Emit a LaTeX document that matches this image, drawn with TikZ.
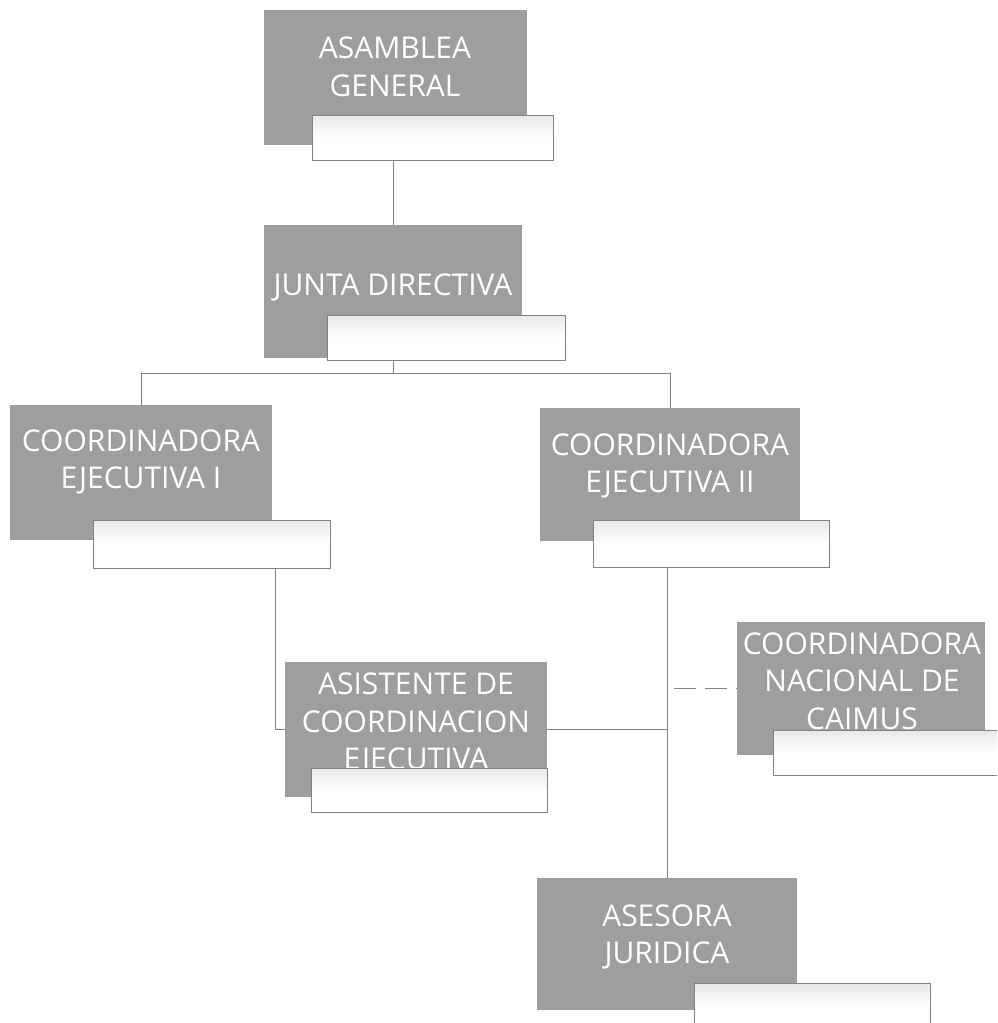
\documentclass[tikz,border=0pt]{standalone}
\usepackage{fontspec}
\setmainfont{Open Sans}
\usetikzlibrary{calc}
\definecolor{boxgray}{RGB}{158,158,158}
\definecolor{linegray}{RGB}{130,130,130}
\tikzset{
  graybox/.style={draw=none, fill=boxgray, anchor=north west, inner sep=0pt},
  whitebox/.style={draw=linegray, line width=0.8pt, anchor=north west, inner sep=0pt,
    top color=gray!18, bottom color=white, middle color=white},
  label/.style={text=white, font=\fontsize{30}{37.5}\selectfont, align=center, inner sep=0pt},
  link/.style={draw=linegray, line width=0.9pt},
  dlink/.style={link, dash pattern=on 22pt off 9pt}
}
\begin{document}
\begin{tikzpicture}[x=1pt, y=-1pt]
\useasboundingbox (0,0) rectangle (997,1023);
\begin{scope}
\clip (0,0) rectangle (997,1023);
% ASAMBLEA GENERAL
\node[graybox, minimum width=263pt, minimum height=135pt] (ag) at (264,10) {};
\node[label] (agt) at (395,67) {ASAMBLEA\\GENERAL};
\node[whitebox, minimum width=241pt, minimum height=45pt] (agw) at (312,115) {};
% JUNTA DIRECTIVA
\node[graybox, minimum width=258pt, minimum height=133pt] (jd) at (264,225) {};
\node[label] (jdt) at (393,287) {JUNTA DIRECTIVA};
\node[whitebox, minimum width=238pt, minimum height=45pt] (jdw) at (327,315) {};
% COORDINADORA EJECUTIVA I
\node[graybox, minimum width=262pt, minimum height=135pt] (c1) at (10,405) {};
\node[label] (c1t) at (141,462) {COORDINADORA\\EJECUTIVA I};
\node[whitebox, minimum width=237pt, minimum height=48pt] (c1w) at (93,520) {};
% COORDINADORA EJECUTIVA II
\node[graybox, minimum width=260pt, minimum height=133pt] (c2) at (540,408) {};
\node[label] (c2t) at (670,466) {COORDINADORA\\EJECUTIVA II};
\node[whitebox, minimum width=236pt, minimum height=47pt] (c2w) at (593,520) {};
% ASISTENTE DE COORDINACION EJECUTIVA
\node[graybox, minimum width=262pt, minimum height=135pt] (as) at (285,662) {};
\node[label] (ast) at (416,724) {ASISTENTE DE\\COORDINACION\\EJECUTIVA};
\node[whitebox, minimum width=236pt, minimum height=44pt] (asw) at (311,768) {};
% COORDINADORA NACIONAL DE CAIMUS
\node[graybox, minimum width=248pt, minimum height=133pt] (cn) at (737,622) {};
\node[label] (cnt) at (862,681) {COORDINADORA\\NACIONAL DE\\CAIMUS};
\node[whitebox, minimum width=230pt, minimum height=45pt] (cnw) at (773,730) {};
% ASESORA JURIDICA
\node[graybox, minimum width=260pt, minimum height=132pt] (aj) at (537,878) {};
\node[label] (ajt) at (667,937) {ASESORA\\JURIDICA};
\node[whitebox, minimum width=236pt, minimum height=50pt] (ajw) at (694,983) {};
\end{scope}
% connectors
\draw[link] (jd.north |- agw.south) -- (jd.north);
\draw[link] (jd.north |- jdw.south) -- ++(0,13) coordinate (split) -| (c1.north);
\draw[link] (split) -| (c2.north);
\draw[link] ([xshift=64pt]c1w.south) |- (as.west);
\draw[link] (aj.north |- c2w.south) -- (aj.north);
\draw[link] (as.east) -- (as.east -| aj.north);
\draw[dlink] ([xshift=7pt]aj.north |- cn.west) -- (cn.west);
\end{tikzpicture}
\end{document}
